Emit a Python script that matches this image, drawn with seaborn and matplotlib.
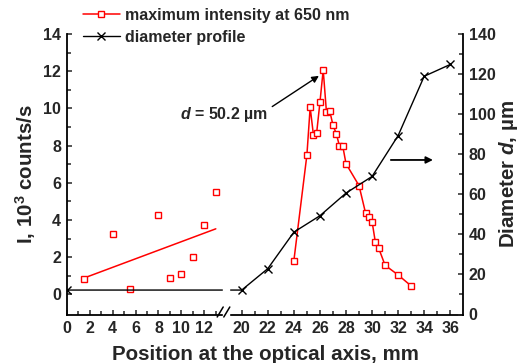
import numpy as np
import pandas as pd
import matplotlib
matplotlib.use("Agg")
import matplotlib.pyplot as plt
import seaborn as sns
from matplotlib.lines import Line2D

# ---------------- data ----------------
scatter_pos = [1.5, 4, 5.5, 8, 9, 10, 11, 12, 13]
scatter_int = [0.85, 3.27, 0.27, 4.25, 0.89, 1.10, 2.00, 3.75, 5.49]

peak_pos = [24, 25, 25.25, 25.5, 25.75, 26, 26.25, 26.5, 26.75, 27, 27.25,
            27.5, 27.75, 28, 29, 29.5, 29.75, 30, 30.25, 30.5, 31, 32, 33]
peak_int = [1.82, 7.5, 10.06, 8.58, 8.7, 10.33, 12.07, 9.8, 9.87, 9.1, 8.65,
            7.98, 7.98, 7.03, 5.85, 4.38, 4.17, 3.92, 2.82, 2.5, 1.57, 1.05, 0.46]

diam_pos = [0, 20, 22, 24, 26, 28, 30, 32, 34, 36]
diam_val = [12.2, 12.2, 22.9, 41.1, 49.3, 60.6, 68.9, 89.3, 118.9, 124.8]

left_major = [0, 2, 4, 6, 8, 10, 12, 20, 22, 24, 26, 28, 30, 32, 34, 36]
left_minor = [1, 3, 5, 7, 9, 11, 13, 21, 23, 25, 27, 29, 31, 33, 35]

legend_labels = ["maximum intensity at 650 nm", "diameter profile"]

# ---------------- style ----------------
sns.set_theme(style="ticks")
plt.rcParams["font.family"] = ["Liberation Sans", "DejaVu Sans"]
plt.rcParams["font.weight"] = "bold"
plt.rcParams["axes.labelweight"] = "bold"
plt.rcParams["mathtext.fontset"] = "custom"
plt.rcParams["mathtext.rm"] = "Liberation Sans:bold"
plt.rcParams["mathtext.bf"] = "Liberation Sans:bold"
plt.rcParams["mathtext.it"] = "Liberation Sans:italic:bold"

W, H = 520, 363
fig = plt.figure(figsize=(W / 100, H / 100), dpi=100)
ax_l, ax_r, ax_t, ax_b = 66.7, 463.3, 34.0, 314.5
ax = fig.add_axes([ax_l / W, 1 - ax_b / H, (ax_r - ax_l) / W, (ax_b - ax_t) / H])

# broken x scale (piecewise linear)
a, b = 11.44, 13.0
B1, B2 = 13.6, 19.03
x20 = 174.6
xp = np.array([-100.0, B1, B2, 200.0])
fp = np.array([-100.0 * a, B1 * a, x20 + (B2 - 20) * b, x20 + (200 - 20) * b])


def fwd(x):
    return np.interp(x, xp, fp)


def inv(y):
    return np.interp(y, fp, xp)


ax.set_xscale("function", functions=(fwd, inv))
ax2 = ax.twinx()

# ---------------- plotting ----------------
red = "#ff0000"
sns.lineplot(x=scatter_pos, y=scatter_int, ax=ax, linestyle="", marker="s",
             markersize=4.2, markerfacecolor="white", markeredgecolor=red,
             markeredgewidth=1.0, color=red, zorder=4)
sns.regplot(x=np.array(scatter_pos), y=np.array(scatter_int), ax=ax,
            scatter=False, ci=None, truncate=True, color=red,
            line_kws=dict(lw=1.1))
sns.lineplot(x=peak_pos, y=peak_int, ax=ax, color=red, lw=1.1, marker="s",
             markersize=4.2, markerfacecolor="white", markeredgecolor=red,
             markeredgewidth=1.0, zorder=4)

sns.lineplot(x=diam_pos, y=diam_val, ax=ax2, color="black", lw=1.0,
             marker="x", markersize=6, markeredgecolor="black",
             markeredgewidth=1.0)

ax.set_xlim(0, 37)
ax.set_ylim(-1.075, 14)
ax2.set_ylim(0, 140)

# ticks
ax.set_xticks(left_major)
ax.set_xticks(left_minor, minor=True)
ax.set_xticklabels([str(v) for v in left_major])
ax.set_yticks(np.arange(0, 15, 2))
ax.set_yticks(np.arange(1, 14, 2), minor=True)
ax2.set_yticks(np.arange(0, 141, 20))
ax2.set_yticks(np.arange(10, 140, 20), minor=True)

for a_ in (ax, ax2):
    a_.tick_params(which="both", direction="in", width=1.1, labelsize=11.5)
    a_.tick_params(which="major", length=3.8)
    a_.tick_params(which="minor", length=2.6)
ax.tick_params(axis="x", pad=5, top=False)
ax.tick_params(axis="y", pad=4, right=False)
ax2.tick_params(axis="y", pad=4, left=False)
for lab in ax.get_xticklabels() + ax.get_yticklabels() + ax2.get_yticklabels():
    lab.set_fontweight("bold")

# spines
for s in list(ax.spines.values()) + list(ax2.spines.values()):
    s.set_linewidth(1.3)
    s.set_color("black")
ax.spines["top"].set_visible(False)
ax.spines["right"].set_visible(False)
ax2.spines["top"].set_visible(False)
ax2.spines["left"].set_visible(False)
ax2.spines["bottom"].set_visible(False)

# labels
ax.set_xlabel("Position at the optical axis, mm", fontsize=14.8,
              fontweight="bold", labelpad=6)
ax.set_ylabel(r"I, 10$^{3}$ counts/s", fontsize=14.8, fontweight="bold",
              labelpad=4)
ax2.set_ylabel(r"Diameter $d$, µm", fontsize=14.8, fontweight="bold",
               labelpad=1)

# axis break
ax2.axvspan(B1, B2, ymin=-0.04, ymax=0.13, color="white", zorder=10,
            clip_on=False)
for cx in (220.2, 226.8):
    fig.add_artist(Line2D([(cx - 3) / W, (cx + 3) / W],
                          [1 - 317 / H, 1 - 307 / H],
                          color="black", lw=1.1, transform=fig.transFigure,
                          zorder=20))

# annotations
ax.text(9.9, 9.65, r"$d$ = 50.2 µm", fontsize=11.5, fontweight="bold",
        ha="left", va="center")
ax.annotate("", xy=(25.92, 11.75), xytext=(22.34, 10.1),
            arrowprops=dict(arrowstyle="-|>", color="black", lw=1.0,
                            mutation_scale=10, shrinkA=0, shrinkB=0))
ax.annotate("", xy=(34.67, 7.23), xytext=(31.44, 7.23),
            arrowprops=dict(arrowstyle="-|>", color="black", lw=1.3,
                            mutation_scale=10, shrinkA=0, shrinkB=0))

# legend
handles = [
    Line2D([], [], color=red, lw=1.1, marker="s", markersize=4.2,
           markerfacecolor="white", markeredgecolor=red, markeredgewidth=1.0),
    Line2D([], [], color="black", lw=1.0, marker="x", markersize=6,
           markeredgecolor="black", markeredgewidth=1.0),
]
leg = fig.legend(handles, legend_labels, loc="upper left",
                 bbox_to_anchor=(83 / W, 1 - 8 / H), frameon=False,
                 fontsize=11.5, handlelength=2.3, handletextpad=0.35,
                 borderpad=0, borderaxespad=0, labelspacing=0.42)
for t in leg.get_texts():
    t.set_fontweight("bold")

fig.savefig("out.png", dpi=100)
